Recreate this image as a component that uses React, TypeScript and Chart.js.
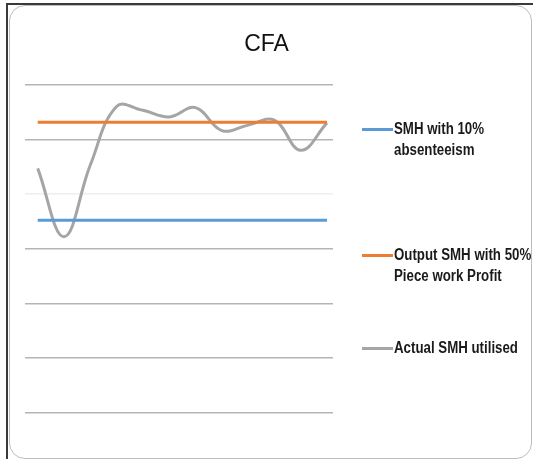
import React, { useEffect, useRef } from "react";
import { Chart, registerables } from "chart.js";

Chart.register(...registerables);

const categories = ["1", "2", "3", "4", "5", "6", "7", "8", "9", "10", "11", "12"];
const smh10Absenteeism = [352, 352, 352, 352, 352, 352, 352, 352, 352, 352, 352, 352];
const outputSmh50Profit = [531, 531, 531, 531, 531, 531, 531, 531, 531, 531, 531, 531];
const actualSmhUtilised = [447, 322, 453, 560, 553, 541, 558, 516, 526, 535, 480, 530];
const yTicks = [0, 100, 200, 300, 400, 500, 600];

const seriesNames = ["SMH with 10% absenteeism", "Output SMH with 50% Piece work Profit", "Actual SMH utilised"];
const seriesColors = ["#5B9BD5", "#ED7D31", "#A5A5A5"];

const FONT = "'Liberation Sans', Arial, sans-serif";

export default function App() {
  const ref = useRef<HTMLCanvasElement | null>(null);

  useEffect(() => {
    if (!ref.current) return;
    const toXY = (arr: number[]) => arr.map((v, i) => ({ x: categories.indexOf(categories[i]), y: v }));
    const chart = new Chart(ref.current, {
      type: "line",
      data: {
        datasets: [
          { label: seriesNames[0], data: toXY(smh10Absenteeism), borderColor: seriesColors[0], borderWidth: 3, pointRadius: 0, tension: 0 },
          { label: seriesNames[1], data: toXY(outputSmh50Profit), borderColor: seriesColors[1], borderWidth: 3, pointRadius: 0, tension: 0 },
          { label: seriesNames[2], data: toXY(actualSmhUtilised), borderColor: seriesColors[2], borderWidth: 3, pointRadius: 0, tension: 0.4 },
        ],
      },
      options: {
        animation: false,
        responsive: false,
        layout: { padding: { left: 0, right: 0, top: 31, bottom: 46 } },
        plugins: {
          legend: { display: false },
          tooltip: { enabled: false },
          title: {
            display: true,
            text: "CFA",
            color: "#111",
            font: { family: FONT, size: 23, weight: "normal" },
            padding: { top: 0, bottom: 26 },
          },
        },
        scales: {
          x: {
            type: "linear",
            min: -0.483,
            max: 11.228,
            display: false,
          },
          y: {
            position: "left",
            min: yTicks[0],
            max: yTicks[yTicks.length - 1],
            afterBuildTicks: (s: any) => {
              s.ticks = yTicks.map((v) => ({ value: v }));
            },
            afterFit: (s: any) => {
              s.width = 25;
            },
            ticks: { display: false },
            border: { display: false },
            grid: {
              drawTicks: false,
              tickLength: 0,
              lineWidth: 1.6,
              color: (ctx: any) => (ctx.tick && ctx.tick.value === 400 ? "#eeeeee" : "#b5b5b5"),
            },
          },
          legendSpace: {
            type: "linear",
            position: "right",
            display: true,
            afterFit: (s: any) => {
              s.width = 200;
            },
            ticks: { display: false },
            border: { display: false },
            grid: { display: false, drawTicks: false },
          },
        },
      },
    });
    return () => chart.destroy();
  }, []);

  const legendText: React.CSSProperties = {
    position: "absolute",
    left: 394,
    fontFamily: FONT,
    fontWeight: "bold",
    fontSize: 16,
    lineHeight: "21px",
    color: "#1a1a1a",
    whiteSpace: "nowrap",
    transform: "scaleX(0.83)",
    transformOrigin: "left center",
  };
  const marker = (top: number, color: string): React.CSSProperties => ({
    position: "absolute",
    left: 362,
    top: top - 1.5,
    width: 31,
    height: 3,
    background: color,
  });

  return (
    <div style={{ position: "fixed", left: 0, top: 0, width: 533, height: 459, background: "#fff", overflow: "hidden" }}>
      <div style={{ position: "absolute", left: 6, top: 3, width: 540, height: 470, borderLeft: "2px solid #3a3a3a", borderTop: "2px solid #3a3a3a" }} />
      <div style={{ position: "absolute", left: 9, top: 5, width: 521, height: 452, border: "1px solid #bdbdbd", borderRadius: 16 }} />
      <canvas ref={ref} width={533} height={459} style={{ position: "absolute", left: 0, top: 0, width: 533, height: 459 }} />
      <div style={marker(129, seriesColors[0])} />
      <div style={{ ...legendText, top: 118 }}>SMH with 10%<br />absenteeism</div>
      <div style={marker(255, seriesColors[1])} />
      <div style={{ ...legendText, top: 244 }}>Output SMH with 50%<br />Piece work Profit</div>
      <div style={marker(348, seriesColors[2])} />
      <div style={{ ...legendText, top: 337 }}>Actual SMH utilised</div>
    </div>
  );
}
